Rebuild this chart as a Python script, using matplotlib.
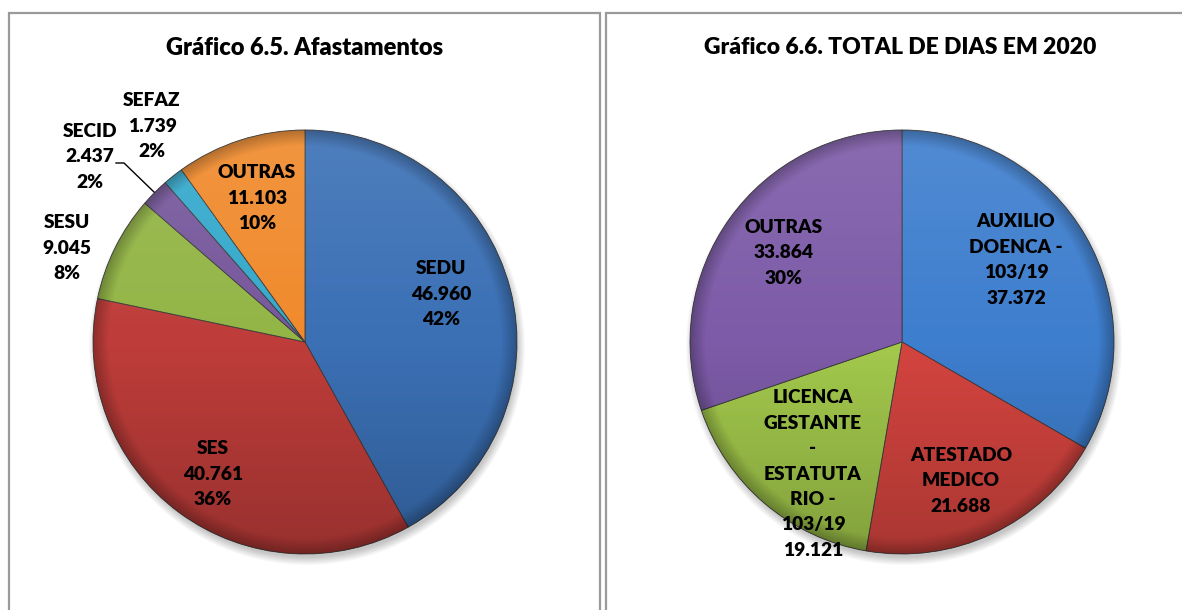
import numpy as np
import matplotlib
matplotlib.use("Agg")
import matplotlib.pyplot as plt
from matplotlib.patches import Rectangle, Circle

plt.rcParams['font.family'] = ['Lato', 'DejaVu Sans']

# ---- data ----
left_title = "Gráfico 6.5. Afastamentos"
left_labels = ["SEDU", "SES", "SESU", "SECID", "SEFAZ", "OUTRAS"]
left_values = [46960, 40761, 9045, 2437, 1739, 11103]
left_value_text = ["46.960", "40.761", "9.045", "2.437", "1.739", "11.103"]
left_pct_text = ["42%", "36%", "8%", "2%", "2%", "10%"]
left_colors = ["#3B70B5", "#BE3D3A", "#93B546", "#77589C", "#35A9CC", "#F08A2C"]

right_title = "Gráfico 6.6. TOTAL DE DIAS EM 2020"
right_labels = ["AUXILIO\nDOENCA -\n103/19", "ATESTADO\nMEDICO",
                "LICENCA\nGESTANTE\n-\nESTATUTA\nRIO -\n103/19", "OUTRAS"]
right_values = [37372, 21688, 19121, 33864]
right_value_text = ["37.372", "21.688", "19.121", "33.864"]
right_pct_text = [None, None, None, "30%"]
right_colors = ["#3E7ECE", "#D4443F", "#A3C94C", "#7D5BA8"]

W, H = 1182, 610
fig = plt.figure(figsize=(W / 100, H / 100), dpi=100)
ax = fig.add_axes([0, 0, 1, 1])

def Y(y):
    return H - y

# panel boxes
for x0, x1 in [(8.5, 599.5), (605.5, 1200)]:
    ax.add_patch(Rectangle((x0, Y(700)), x1 - x0, 700 - 12.5, fill=False,
                           edgecolor="#9A9A9A", lw=1.6, zorder=1))

R = 212

def draw_pie(cx, cy, values, colors):
    c = (cx, Y(cy))
    # soft shadow
    for i in range(10):
        ax.add_patch(Circle((cx + 2, Y(cy) - 5), R + 6 - i * 0.9,
                            color="black", alpha=0.025, lw=0, zorder=2))
    wedges, _ = ax.pie(values, colors=colors, startangle=90, counterclock=False,
                       center=c, radius=R, frame=True,
                       wedgeprops=dict(edgecolor="#3a3a3a", linewidth=0.6))
    for w in wedges:
        w.set_zorder(3)
    # vertical shading overlay
    yy = np.linspace(1, 0, 200)[:, None] * np.ones((1, 2))
    rgba = np.zeros((200, 2, 4))
    light = np.clip((yy - 0.5) * 2, 0, 1)
    dark = np.clip((0.5 - yy) * 2, 0, 1)
    rgba[..., :3] = np.where(light[..., None] > 0, 1.0, 0.0)
    rgba[..., 3] = light * 0.10 + dark * 0.20
    im = ax.imshow(rgba, extent=(cx - R, cx + R, Y(cy) - R, Y(cy) + R),
                   origin='upper', zorder=4, interpolation='bilinear')
    im.set_clip_path(Circle(c, R, transform=ax.transData))
    # rim darkening
    n = 200
    g = np.linspace(-1, 1, n)
    xx, yv = np.meshgrid(g, g)
    rr = np.sqrt(xx ** 2 + yv ** 2)
    rim = np.zeros((n, n, 4))
    rim[..., 3] = np.clip((rr - 0.93) / 0.07, 0, 1) * 0.25
    im2 = ax.imshow(rim, extent=(cx - R, cx + R, Y(cy) - R, Y(cy) + R),
                    origin='upper', zorder=4, interpolation='bilinear')
    im2.set_clip_path(Circle(c, R, transform=ax.transData))

draw_pie(305, 342, left_values, left_colors)
draw_pie(902, 342, right_values, right_colors)

ax.set_xlim(0, W)
ax.set_ylim(0, H)
ax.set_aspect('equal')
ax.axis('off')

FS = 13.8
LS = 1.6

def label(x, y, txt):
    ax.text(x, Y(y), txt, ha='center', va='center', fontsize=FS, fontweight='heavy',
            linespacing=LS, color='black', zorder=6)

# left labels
left_pos = [(441, 294), (213, 474), (67, 248), (90, 157), (152, 126), (257, 198)]
for (x, y), n, v, p in zip(left_pos, left_labels, left_value_text, left_pct_text):
    label(x, y, f"{n}\n{v}\n{p}")

# leader line for SECID
ax.plot([116, 124, 154], [Y(163), Y(163), Y(192)], color='black', lw=1.0, zorder=6)

# right labels
right_pos = [(1016, 260), (961, 481), (813, 474), (784, 253)]
for (x, y), n, v, p in zip(right_pos, right_labels, right_value_text, right_pct_text):
    t = f"{n}\n{v}" + (f"\n{p}" if p else "")
    label(x, y, t)

ax.text(305, Y(48), left_title, ha='center', va='center', fontsize=17,
        fontweight='heavy', zorder=6)
ax.text(900, Y(48), right_title, ha='center', va='center', fontsize=16.5,
        fontweight='heavy', zorder=6)

fig.savefig("out.png", dpi=100)
